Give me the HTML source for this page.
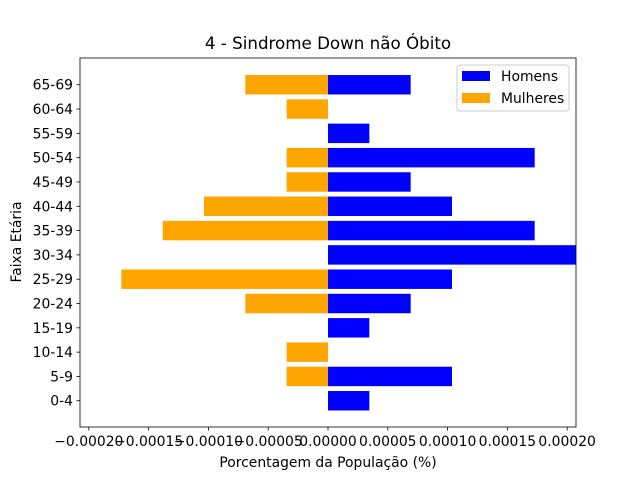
<!DOCTYPE html>
<html><head><meta charset="utf-8"><style>body{margin:0;background:#fff}svg{display:block;font-family:"DejaVu Sans","Liberation Sans",sans-serif}</style></head>
<body>
<svg id="chart" width="640" height="480"></svg>
<script>
const categories=["0-4","5-9","10-14","15-19","20-24","25-29","30-34","35-39","40-44","45-49","50-54","55-59","60-64","65-69"];
const u=3.457e-5;
const homens=[1*u,3*u,0,1*u,2*u,3*u,6*u,5*u,3*u,2*u,5*u,1*u,0,2*u];
const mulheres=[0,1*u,1*u,0,2*u,5*u,0,4*u,3*u,1*u,1*u,0,1*u,2*u];
const xTicks=[-0.0002,-0.00015,-0.0001,-0.00005,0,0.00005,0.0001,0.00015,0.0002];
const xTickLabels=["\u22120.00020","\u22120.00015","\u22120.00010","\u22120.00005","0.00000","0.00005","0.00010","0.00015","0.00020"];
const NS="http://www.w3.org/2000/svg";
const svg=document.getElementById("chart");
const L=80,R=576,T=58,B=427,xmin=-0.0002074,xmax=0.0002074,ymin=-1.08,ymax=14.1;
const X=v=>L+(v-xmin)/(xmax-xmin)*(R-L);
const Y=i=>B-(i-ymin)/(ymax-ymin)*(B-T);
const bh=0.8*(B-T)/(ymax-ymin);
function el(t,a,txt){const e=document.createElementNS(NS,t);for(const k in a)e.setAttribute(k,a[k]);if(txt!==undefined)e.textContent=txt;svg.appendChild(e);return e;}
const clip=el("clipPath",{id:"c"});const cr=document.createElementNS(NS,"rect");cr.setAttribute("x",L);cr.setAttribute("y",T);cr.setAttribute("width",R-L);cr.setAttribute("height",B-T);clip.appendChild(cr);
categories.forEach((c,i)=>{
  const x1=X(0),x2=X(homens[i]);
  let b=el("rect",{x:x1,y:Y(i)-bh/2,width:Math.max(0,x2-x1),height:bh,fill:"#0000ff","clip-path":"url(#c)"});
  
  
  const x3=X(-mulheres[i]);
  b=el("rect",{x:x3,y:Y(i)-bh/2,width:Math.max(0,x1-x3),height:bh,fill:"#ffa500","clip-path":"url(#c)"});
  
  
  el("line",{x1:L,x2:L-3.5,y1:Y(i),y2:Y(i),stroke:"#000","stroke-width":0.8});
  const t=el("text",{x:L-7,y:Y(i)+5,"text-anchor":"end","font-size":"13.9"},c);
  
  
});
xTicks.forEach((v,i)=>{
  el("line",{x1:X(v),x2:X(v),y1:B,y2:B+3.5,stroke:"#000","stroke-width":0.8});
  const t=el("text",{x:X(v),y:B+19,"text-anchor":"middle","font-size":"13.9"},xTickLabels[i]);
  
  
});
const fr=el("rect",{x:L,y:T,width:R-L,height:B-T,fill:"none",stroke:"#000","stroke-width":0.8});


let t=el("text",{x:328,y:49,"text-anchor":"middle","font-size":"16.7"},"4 - Sindrome Down não Óbito");

t=el("text",{x:328,y:467,"text-anchor":"middle","font-size":"13.9"},"Porcentagem da População (%)");

t=el("text",{x:21,y:242,"text-anchor":"middle","font-size":"13.9",transform:"rotate(-90 21 242)"},"Faixa Etária");

const lg=el("rect",{x:457,y:65,width:112,height:46,rx:3,fill:"#fff",stroke:"#ccc","stroke-width":1});

[["Homens","#0000ff",76],["Mulheres","#ffa500",98]].forEach(([n,c,y])=>{
  el("rect",{x:462,y:y-5,width:28,height:10,fill:c});
  const e=el("text",{x:501,y:y+5,"font-size":"13.9"},n);
  
  
});
</script>
</body></html>
